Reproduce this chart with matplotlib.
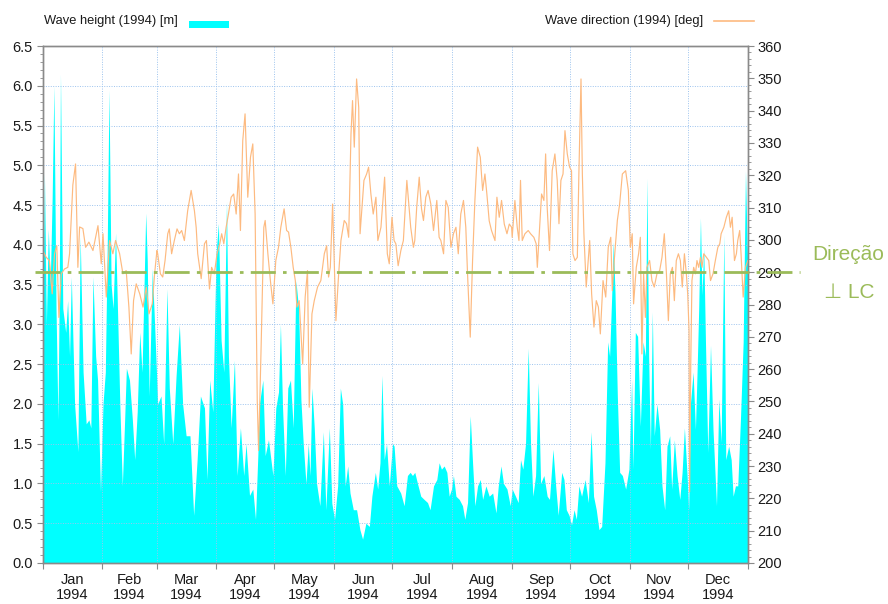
import matplotlib
matplotlib.use('Agg')
import matplotlib.pyplot as plt
import matplotlib.transforms as mtrans
from matplotlib.ticker import MultipleLocator, FixedLocator, NullFormatter, FixedFormatter
from matplotlib import font_manager

names = {f.name for f in font_manager.fontManager.ttflist}
base = 'Liberation Sans Narrow' if 'Liberation Sans Narrow' in names else 'Liberation Sans'
plt.rcParams['font.family'] = [base, 'DejaVu Sans']

# ---------------- data ----------------
month_names = ['Jan', 'Feb', 'Mar', 'Apr', 'May', 'Jun', 'Jul', 'Aug', 'Sep', 'Oct', 'Nov', 'Dec']
month_start = [0, 31, 59, 90, 120, 151, 181, 212, 243, 273, 304, 334, 365]
year_label = '1994'

height_day = [0, 1, 2, 3, 4, 5, 5.9, 7, 8, 8.7, 9.3, 10.5, 12, 13, 14, 14.9, 16.6, 18.3, 19.5, 21,
              22.6, 24, 25, 26.1, 27.5, 28.5, 30, 31.3, 32.5, 33.5, 34.4, 35.5, 36.5, 37.8, 39, 40,
              41.3, 42.5, 43.4, 45, 46.5, 47.7, 49, 50.3, 51.5, 53.4, 54.2, 55.2, 56.8, 58,
              59.6, 61.3, 62.7, 64.4, 65.6, 67.4, 69.1, 70.8, 72.5, 74.3, 76.3, 78.2, 80, 81.7,
              83.8, 85.1, 86.5, 88.1, 89.8, 91, 92.4, 93.8, 95.2, 96.2, 97.6, 99.3, 100.7, 102.4,
              104.1, 105.3, 107.1, 108.8, 110.2, 111.4, 112.2, 114, 115.2, 116.9, 119.2,
              120.7, 122.1, 123.1, 124.2, 125.6, 126.9, 128.3, 129.7, 131.1, 132.5, 133.7, 134.9,
              136.3, 137.5, 138.4, 139.4, 140.6, 141.8, 143.5, 145.3, 146.6, 148.4, 149.7, 151.1,
              152.7, 154.1, 155.3, 156.6, 157.9, 159.1, 160.8, 162.5, 164.2, 165.6, 167.3, 169.1,
              170.4, 172.2, 173.4, 174.6, 175.6, 176.8, 178, 179.4, 181.1,
              181.9, 183.3, 185.3, 187.1, 188.8, 190.2, 191.4, 192.6, 194, 195.7, 197.4, 199.2,
              200.5, 202.3, 204, 205.2, 206.4, 207.8, 209.2, 210.4, 211.6, 212.6, 213.9, 215.6,
              217.3, 218.5, 219.9, 221.3, 222.5, 223.7, 225.1, 226.5, 227.7, 229.4, 231.1, 232.9,
              234.6, 235.8, 237.2, 238.5, 240.3, 242,
              243, 244.7, 246.1, 247.3, 248.5, 249.9, 251.3, 252.5, 253.7, 255.1, 256.5, 257.7,
              259.4, 261.1, 262.3, 264.1, 265.5, 266.8, 268.6, 269.8, 271, 272.4, 273.7, 275,
              276.2, 277.5, 278.9, 280.7, 282.4, 283.8, 285.1, 286.5, 287.9, 289.3, 291, 292.4,
              293.4, 294.5, 295.3, 296.2, 297.4, 298.6, 300, 301.7, 303.4,
              304.8, 305.5, 306.7, 307.9, 309.3, 310.7, 311.9, 312.7, 313.6, 314.5, 315.5, 316.5,
              317.9, 319.3, 320.5, 321.9, 323.1, 324.5, 325.5, 326.9, 328.3, 329.7, 330.9, 332.1,
              333.5, 334.3, 335.2, 336.6, 337.8, 338.6, 339.5, 340.4, 341.2, 342.1, 343, 344.2,
              345.6, 346.9, 348.7, 349.9, 351.1, 352.5, 353.5, 355, 356.3, 357.3, 358.5, 359.7,
              361.1, 362.5, 363.7, 364.5, 365]
height_m = [2.6, 4.9, 3.0, 4.2, 3.5, 4.6, 6.0, 3.2, 1.8, 3.5, 6.15, 3.2, 2.9, 3.3, 2.6, 3.6, 2.0, 1.4,
            4.1, 2.4, 1.75, 1.8, 1.7, 3.6, 2.6, 2.3, 0.9, 2.0, 2.4, 4.0, 5.95, 3.5, 3.2, 4.15, 3.0,
            2.0, 0.97, 1.8, 2.45, 2.3, 1.8, 1.3, 1.9, 2.9, 2.4, 4.4, 3.8, 2.1, 3.7, 3.0,
            2.0, 2.1, 1.5, 3.45, 2.2, 1.5, 2.35, 3.0, 2.0, 1.6, 1.6, 0.6, 1.3, 2.1, 1.95, 1.05,
            2.3, 1.9, 3.9, 4.27, 2.8, 2.4, 4.55, 2.6, 1.7, 2.55, 1.1, 1.7, 1.1, 1.5, 0.85, 0.93,
            0.55, 1.35, 2.0, 2.3, 1.35, 1.55, 1.1,
            1.95, 2.15, 3.0, 1.95, 1.1, 2.2, 2.3, 1.7, 3.55, 3.2, 2.05, 1.5, 1.0, 1.5, 1.1, 2.2,
            1.7, 1.0, 0.72, 1.65, 0.67, 1.7, 0.75, 0.55, 0.97, 2.2, 2.0, 0.97, 1.22, 0.88, 0.67,
            0.67, 0.42, 0.3, 0.5, 0.46, 0.84, 1.14, 0.93, 1.26, 2.36, 1.3, 1.5, 0.97, 1.5,
            1.47, 0.97, 0.88, 0.72, 1.1, 1.14, 1.1, 1.14, 1.0, 0.84, 0.8, 0.76, 0.67, 0.97, 1.05,
            1.26, 1.18, 1.22, 1.14, 0.84, 0.93, 1.1, 0.84, 0.8, 0.72, 0.55, 0.76, 1.85, 1.26,
            0.72, 0.97, 1.05, 0.8, 0.97, 0.84, 0.88, 0.63, 0.97, 1.22, 1.0, 0.93, 0.72,
            0.93, 0.84, 0.76, 1.3, 1.18, 1.5, 2.7, 1.5, 0.84, 1.1, 2.27, 1.0, 1.1, 0.84, 0.8,
            1.43, 0.97, 0.6, 1.14, 1.05, 0.67, 0.6, 0.48, 0.67, 0.55, 0.97, 0.84, 1.05, 0.76,
            1.65, 0.84, 0.67, 0.42, 0.46, 1.26, 2.78, 2.6, 3.37, 4.04, 3.4, 2.1, 1.14, 1.1, 0.93,
            1.18,
            2.3, 1.18, 2.9, 2.85, 1.72, 2.78, 2.6, 4.84, 2.6, 1.43, 3.16, 1.6, 2.0, 1.68, 0.97,
            0.67, 1.47, 1.6, 0.93, 1.55, 1.1, 0.8, 1.14, 1.7, 1.1, 0.67, 2.0, 2.4, 1.68, 2.36,
            3.2, 4.34, 3.37, 3.96, 2.78, 1.39, 2.74, 1.68, 0.72, 2.06, 1.52, 4.13, 1.3, 1.47, 1.3,
            0.84, 0.97, 0.97, 1.81, 2.78, 4.93, 4.04, 3.63]

dir_day = [0.2, 1.9, 3.6, 5, 6.2, 7.4, 8.5, 9.7, 11.4, 13.1, 14, 15.7, 17.1, 18.3, 19.2, 20.9, 22.3,
           24, 26.1, 28.7, 30.4, 31.3, 33, 34.7, 36.4, 37.8, 39.9, 41.6, 43.3, 44.7, 45.9, 47.1,
           48.5, 50.3, 52, 53.7, 55.1, 56.8, 58, 59.2,
           59.6, 61, 62.2, 63.4, 64.8, 65.6, 66.8, 68.2, 69.6, 70.8, 72, 73.4, 75.1, 76.9, 78.6,
           79.5, 80.3, 82.1, 83.8, 84.8, 86.4, 87.5, 88.9, 90.3, 91.7, 92.7, 93.8, 95, 96.2,
           97.6, 98.9, 100.2, 101.4, 102.4, 103.6, 104.8, 106.2, 107.6, 108.8, 110, 111.1, 111.8,
           113.1, 114.5, 115.2, 116.6, 117.9, 119.2,
           120.7, 122.1, 123.3, 125, 126.3, 127.3, 128.5, 129.7, 130.8, 131.6, 132.8, 134.6,
           135.9, 137.1, 138, 139.4, 140.6, 142.3, 144, 145.8, 147, 148, 148.9, 150.1, 151.1,
           151.8, 153, 154.4, 156.1, 157.3, 158.4, 159.6, 160.4, 161.3, 162.5, 163.6, 164.3,
           165.3, 166.3, 167.7, 168.7, 169.9, 171.1, 172.5, 173.5, 175.1, 177, 178.4, 179.4,
           180.8,
           181.9, 182.8, 184, 185.4, 186.7, 187.4, 188.5, 189.2, 190.5, 191.9, 192.6, 193.6,
           194.9, 196.1, 197.1, 198.3, 199.5, 200.9, 202.3, 204, 205.2, 206.1, 207.5, 208.7,
           209.9, 211.3, 212.6, 213.9, 215.1, 216.4, 217.8, 219, 219.9, 221.3, 222.5, 223.7,
           225.1, 226.5, 227.7, 228.9, 229.9, 231.1, 232.3, 234.1, 235.1, 236.3, 237.5, 238.9,
           240.3, 241.5, 242.7,
           243, 244.4, 245.6, 246.5, 247.3, 248.2, 249.6, 251.3, 252.5, 254.2, 255.4, 256,
           256.8, 258.2, 259.4, 260.3, 261.1, 262.3, 263.7, 265.1, 266.3, 267.2, 268.2, 269.3,
           270.3, 271.5, 272.7, 273.7, 274.4, 275.5, 276.7, 277.5, 278.6, 279.3, 280.1, 281.3,
           283.1, 284.1, 285.3, 286.5, 287.6, 288.6, 290, 291.4, 292.7, 294, 294.8, 295.8,
           297.4, 298.6, 300, 301.7, 303.1,
           304.1, 305.1, 305.8, 307.2, 308.4, 309.3, 310.1, 311, 311.9, 312.7, 314.1, 315.3,
           316.5, 317.9, 319.3, 320.5, 321.7, 322.8, 323.8, 324.8, 325.9, 326.9, 327.9, 329,
           330, 331, 332.1, 333.1, 333.8, 334.5, 334.8, 335.4, 336, 336.9, 337.8, 338.6, 339.5,
           340.4, 341.2, 342.1, 343.5, 344.7, 345.6, 346.9, 348.1, 349.4, 350.4, 351.1, 352.5,
           353.8, 355, 355.9, 356.8, 358, 359, 359.7, 360.7, 361.4, 362.5, 363.7, 364.9]
dir_deg = [296.7, 294.6, 293.6, 283.3, 295.7, 298.2, 276, 289.5, 291, 291.5, 295.7, 317, 323.5,
           291.5, 304, 303.5, 297.7, 299.3, 296.7, 304.4, 292.6, 301.9, 282.3, 299.8, 295.7,
           299.8, 295.7, 289.5, 290.5, 279.2, 264.7, 281.2, 286.4, 283.3, 279.2, 285.4, 277.1,
           280.2, 289.5, 296.7,
           295.7, 289.5, 288.5, 293.6, 301.9, 303.4, 295.7, 299.8, 303.4, 301.9, 302.9, 299.8,
           309, 315.3, 309, 303.9, 295.7, 288, 298.8, 299.8, 284.8, 291.5, 289.5, 295.7, 298.8,
           301.9, 298.8, 303.9, 308, 313.2, 314.2, 308, 320.4, 302.9, 330.7, 339, 313.2, 325.6,
           329.7, 308, 250.3, 234.8, 266.8, 303.9, 306, 295.7, 287.4, 280.2,
           293.6, 297.7, 303.9, 309.6, 302.9, 302.4, 297.7, 291.5, 287.4, 279.2, 281.2, 261.6,
           282.3, 290.5, 248.2, 277.1, 281.2, 285.4, 287.4, 295.7, 298.2, 288.5, 291.5, 311.1,
           289.5, 275, 287.4, 299.8, 306, 305, 300.8, 332.8, 343.1, 328.7, 349.8, 341, 301.9,
           310.1, 318.4, 320.4, 322.5, 314.2, 308, 313.2, 299.8, 303.9, 319.4, 295.7, 292.6,
           307,
           299.8, 298.8, 292, 296.7, 299.8, 307, 318.4, 313.2, 303.9, 297.7, 299.8, 310.1,
           319.4, 309.6, 306, 313.2, 315.3, 311.1, 302.9, 312.2, 300.8, 299.8, 295.7, 312.2,
           310.1, 297.7, 301.9, 303.9, 295.7, 308, 312.2, 303.9, 289.5, 269.9, 293.6, 312.2,
           328.7, 325.6, 315.3, 320.4, 314.2, 305.9, 302.9, 299.8, 313.2, 307, 312.2, 304.9,
           301.9, 304.9, 303.9,
           300.8, 312.2, 303.9, 299.8, 318.4, 299.8, 301.9, 302.9, 301.9, 300.8, 298.8, 291.5,
           299.8, 314.2, 312.2, 326.6, 310.1, 296.7, 321.4, 326.6, 318.4, 305, 318.4, 320.4,
           333.8, 326.6, 322.5, 321.4, 295.7, 293.6, 294.6, 320.4, 349.8, 320.4, 301.9, 285.4,
           299.8, 283.3, 273, 281.2, 279.2, 270.9, 287.4, 282.3, 297.7, 300.8, 284.3, 293.6,
           306, 311.1, 320.4, 321.4, 315.3,
           297.7, 301.9, 280.2, 291.5, 295.7, 300.8, 264.7, 289.5, 276, 291.5, 293.6, 287.4,
           285.4, 289.5, 290.5, 294.6, 301.9, 289.5, 275, 289.5, 291.5, 281.2, 293.6, 295.7,
           293.6, 285.4, 295.7, 289.5, 283.3, 272, 222, 262.7, 287.4, 291.5, 289.5, 293.6,
           291.5, 294.6, 291.5, 295.7, 294.6, 293.6, 287.4, 289.5, 293.6, 297.7, 298.8, 301.9,
           303.9, 307, 309, 303.9, 307, 293.6, 295.7, 299.8, 302.9, 295.7, 282.3, 291.5, 293.6]

reference_deg = 290
legend_height = 'Wave height (1994) [m]'
legend_dir = 'Wave direction (1994) [deg]'
note_lines = ['Direção', '⊥ LC']

# ---------------- styling ----------------
CYAN = '#00FFFF'
ORANGE = '#FDBA80'
GREEN = '#9BBB59'
GRID = '#9CC3EE'
SPINE = '#8A8A8A'
TXT = '#1a1a1a'

fig = plt.figure(figsize=(8.88, 6.04), dpi=100)
ax = fig.add_axes([42.5 / 888, 1 - 563 / 604, (748 - 42.5) / 888, (563 - 46) / 604])
ax2 = ax.twinx()

ax.fill_between(height_day, 0, height_m, color=CYAN, lw=0, zorder=1)
ax.set_xlim(0, 365)
ax.set_ylim(0, 6.5)
ax2.set_ylim(200, 360)

ax2.plot(dir_day, dir_deg, color=ORANGE, lw=0.85, zorder=2)

# grid (drawn on top of fill, as in the reference)
ax.set_axisbelow(False)
for v in [i * 0.5 for i in range(1, 13)]:
    ax.axhline(v, color=GRID, lw=0.7, ls=(0, (1, 1.5)), zorder=3)
for d in month_start[1:-1]:
    ax.axvline(d, color=GRID, lw=0.7, ls=(0, (1, 1.5)), zorder=3)

# green reference line across figure
tr = mtrans.blended_transform_factory(fig.transFigure, ax2.transData)
ax2.plot([35 / 888, 800 / 888], [reference_deg, reference_deg], transform=tr, clip_on=False,
         color=GREEN, lw=2.0, dashes=[9, 2.6, 1.3, 2.6], zorder=5)

# ticks
ax.yaxis.set_major_locator(MultipleLocator(0.5))
ax.yaxis.set_minor_locator(MultipleLocator(0.1))
ax.yaxis.set_major_formatter(matplotlib.ticker.FormatStrFormatter('%.1f'))
ax2.yaxis.set_major_locator(MultipleLocator(10))
ax2.yaxis.set_minor_locator(MultipleLocator(2))

ax.xaxis.set_major_locator(FixedLocator(month_start))
ax.xaxis.set_major_formatter(NullFormatter())
mids = [(month_start[i] + month_start[i + 1]) / 2 for i in range(12)]
ax.xaxis.set_minor_locator(FixedLocator(mids))
ax.xaxis.set_minor_formatter(FixedFormatter([f'{m}\n{year_label}' for m in month_names]))

ax.tick_params(axis='x', which='major', direction='out', length=4, color=SPINE)
ax.tick_params(axis='x', which='minor', length=0, pad=7, labelsize=10.5, labelcolor=TXT)
ax.tick_params(axis='y', which='major', direction='out', length=4, color=SPINE,
               labelsize=10.5, labelcolor=TXT, pad=3)
ax.tick_params(axis='y', which='minor', direction='out', length=2, color=SPINE)
ax2.tick_params(axis='y', which='major', direction='out', length=4, color=SPINE,
                labelsize=10.5, labelcolor=TXT, pad=3)
ax2.tick_params(axis='y', which='minor', direction='out', length=2, color=SPINE)
for lab in ax.xaxis.get_minorticklabels():
    lab.set_linespacing(1.1)

for a in (ax, ax2):
    for s in a.spines.values():
        s.set_color(SPINE)
        s.set_linewidth(1.0)

# legend (top)
fig.text(44 / 888, 1 - 21 / 604, legend_height, fontsize=9.3, color=TXT, va='center', ha='left')
fig.patches.append(matplotlib.patches.Rectangle((189 / 888, 1 - 28 / 604), 40 / 888, 7 / 604,
                                                transform=fig.transFigure, color=CYAN, lw=0))
fig.text(703 / 888, 1 - 21 / 604, legend_dir, fontsize=9.3, color=TXT, va='center', ha='right')
fig.add_artist(matplotlib.lines.Line2D([714 / 888, 754 / 888], [1 - 21 / 604, 1 - 21 / 604],
                                       transform=fig.transFigure, color=ORANGE, lw=1.2))

# annotation
fig.text(848 / 888, 1 - 254 / 604, note_lines[0], fontsize=15, color=GREEN, ha='center',
         va='center', family=['Liberation Sans', 'DejaVu Sans'])
fig.text(849 / 888, 1 - 292 / 604, note_lines[1], fontsize=15, color=GREEN, ha='center',
         va='center', family=['Liberation Sans', 'DejaVu Sans'])

fig.savefig('out.png', dpi=100)
